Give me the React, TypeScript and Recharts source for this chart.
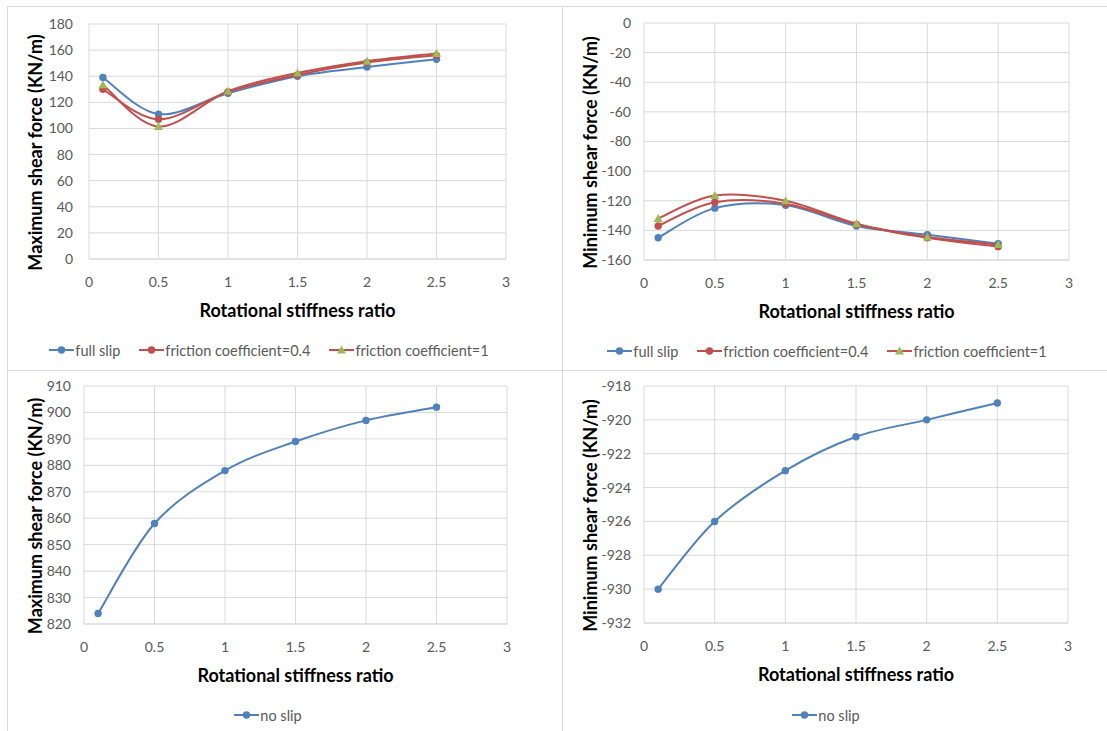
import { LineChart, Line, XAxis, YAxis, CartesianGrid, Legend } from "recharts";

const ratios = [0.1, 0.5, 1, 1.5, 2, 2.5];
const xTicks = [0, 0.5, 1, 1.5, 2, 2.5, 3];

const maxFullSlip = [139, 111, 127, 140, 147, 153];
const maxFriction04 = [130, 107, 128, 141, 150.5, 156];
const maxFriction1 = [133.5, 101.5, 128.5, 142.5, 151.5, 157.5];
const maxTicks = [0, 20, 40, 60, 80, 100, 120, 140, 160, 180];

const minFullSlip = [-145, -125, -123, -137, -143, -149];
const minFriction04 = [-137, -121, -122, -136, -145, -151];
const minFriction1 = [-132, -116.5, -120, -135.5, -144.5, -149.5];
const minTicks = [-160, -140, -120, -100, -80, -60, -40, -20, 0];

const maxNoSlip = [824, 858, 878, 889, 897, 902];
const maxNoSlipTicks = [820, 830, 840, 850, 860, 870, 880, 890, 900, 910];

const minNoSlip = [-930, -926, -923, -921, -920, -919];
const minNoSlipTicks = [-932, -930, -928, -926, -924, -922, -920, -918];

const xTitle = "Rotational stiffness ratio";
const maxTitle = "Maximum shear force (KN/m)";
const minTitle = "Minimum shear force (KN/m)";

const BLUE = "#4F81BD";
const RED = "#C0504D";
const GREEN = "#9BBB59";
const GRID = "#d9d9d9";
const TICK = "#595959";

type Series = { key: string; name: string; values: number[]; line: string; marker: string; shape: string };

// Excel-style smoothed line (Catmull-Rom as bezier segments)
function excelSmooth(context: any) {
  let pts: number[][] = [];
  return {
    areaStart() {},
    areaEnd() {},
    lineStart() {
      pts = [];
    },
    point(x: number, y: number) {
      pts.push([x, y]);
    },
    lineEnd() {
      if (!pts.length) return;
      context.moveTo(pts[0][0], pts[0][1]);
      const t = 1 / 6;
      for (let i = 0; i < pts.length - 1; i++) {
        const p0 = pts[Math.max(i - 1, 0)];
        const p1 = pts[i];
        const p2 = pts[i + 1];
        const p3 = pts[Math.min(i + 2, pts.length - 1)];
        context.bezierCurveTo(
          p1[0] + (p2[0] - p0[0]) * t,
          p1[1] + (p2[1] - p0[1]) * t,
          p2[0] - (p3[0] - p1[0]) * t,
          p2[1] - (p3[1] - p1[1]) * t,
          p2[0],
          p2[1]
        );
      }
    },
  };
}

function Marker({ cx, cy, shape, color }: any) {
  if (cx == null || cy == null) return null;
  if (shape === "triangle") {
    return <path d={`M${cx},${cy - 4.5}L${cx + 4.5},${cy + 3.5}L${cx - 4.5},${cy + 3.5}Z`} fill={color} />;
  }
  return <circle cx={cx} cy={cy} r={3.7} fill={color} />;
}

function LegendRow({ items }: { items: Series[] }) {
  return (
    <div style={{ display: "flex", justifyContent: "center", alignItems: "center", height: 30, gap: 19 }}>
      {items.map((s) => (
        <div key={s.key} style={{ display: "flex", alignItems: "center" }}>
          <svg width={25} height={10}>
            <line x1={0} y1={5} x2={25} y2={5} stroke={s.line} strokeWidth={2} />
            <Marker cx={12.5} cy={5} shape={s.shape} color={s.marker} />
          </svg>
          <span style={{ marginLeft: 1, fontSize: 14.5, color: TICK }}>{s.name}</span>
        </div>
      ))}
    </div>
  );
}

type Panel = {
  left: number;
  top: number;
  width: number;
  height: number;
  plotLeft: number;
  plotRight: number;
  plotTop: number;
  plotBottom: number;
  yGap: number;
  legendCenter: number;
  legendY: number;
};

function ShearChart({ panel, series, yTicks, yTitle }: { panel: Panel; series: Series[]; yTicks: number[]; yTitle: string }) {
  const rows = ratios.map((x, i) => {
    const row: any = { x };
    series.forEach((s) => (row[s.key] = s.values[i]));
    return row;
  });
  const mb = panel.height - panel.legendY - 15;
  const xAxisH = panel.height - panel.plotBottom - 30 - mb;
  const plotMid = (panel.plotTop + panel.plotBottom) / 2 + 11;
  const plotCenterX = (panel.plotLeft + panel.plotRight) / 2;

  return (
    <div
      style={{
        position: "absolute",
        left: panel.left,
        top: panel.top,
        width: panel.width,
        height: panel.height,
        border: `1px solid ${GRID}`,
        background: "#fff",
      }}
    >
      <div style={{ position: "absolute", left: -1, top: -1 }}>
        <LineChart
          width={panel.width}
          height={panel.height}
          data={rows}
          margin={{ top: panel.plotTop, right: panel.width - panel.plotRight, bottom: mb, left: 0 }}
        >
          <CartesianGrid stroke={GRID} />
          <XAxis
            type="number"
            dataKey="x"
            domain={[0, 3]}
            ticks={xTicks}
            interval={0}
            tickLine={false}
            axisLine={{ stroke: GRID }}
            tickSize={0}
            tickMargin={18}
            tick={{ fill: TICK, fontSize: 14 }}
            height={xAxisH}
            label={{
              content: () => (
                <text
                  x={plotCenterX}
                  y={panel.plotBottom + 51}
                  textAnchor="middle"
                  dominantBaseline="central"
                  fontSize={18}
                  fontWeight="bold"
                  fill="#000"
                >
                  {xTitle}
                </text>
              ),
            }}
          />
          <YAxis
            type="number"
            domain={[yTicks[0], yTicks[yTicks.length - 1]]}
            ticks={yTicks}
            interval={0}
            axisLine={false}
            tickLine={false}
            tickSize={0}
            tickMargin={panel.yGap}
            tick={{ fill: TICK, fontSize: 14 }}
            width={panel.plotLeft}
            label={{
              content: () => (
                <text
                  x={28}
                  y={plotMid}
                  textAnchor="middle"
                  dominantBaseline="central"
                  fontSize={18}
                  fontWeight="bold"
                  fill="#000"
                  transform={`rotate(-90, 28, ${plotMid})`}
                >
                  {yTitle}
                </text>
              ),
            }}
          />
          <Legend
            verticalAlign="bottom"
            height={30}
            wrapperStyle={{ left: 0, width: panel.legendCenter * 2 }}
            content={() => <LegendRow items={series} />}
          />
          {series.map((s) => (
            <Line
              key={s.key}
              dataKey={s.key}
              name={s.name}
              type={excelSmooth as any}
              stroke={s.line}
              strokeWidth={2}
              isAnimationActive={false}
              dot={(p: any) => <Marker key={`${s.key}-${p.index}`} cx={p.cx} cy={p.cy} shape={s.shape} color={s.marker} />}
              activeDot={false}
            />
          ))}
        </LineChart>
      </div>
    </div>
  );
}

const maxSeries: Series[] = [
  { key: "fullSlip", name: "full slip", values: maxFullSlip, line: BLUE, marker: BLUE, shape: "circle" },
  { key: "friction04", name: "friction coefficient=0.4", values: maxFriction04, line: RED, marker: RED, shape: "circle" },
  { key: "friction1", name: "friction coefficient=1", values: maxFriction1, line: RED, marker: GREEN, shape: "triangle" },
];

const minSeries: Series[] = [
  { key: "fullSlip", name: "full slip", values: minFullSlip, line: BLUE, marker: BLUE, shape: "circle" },
  { key: "friction04", name: "friction coefficient=0.4", values: minFriction04, line: RED, marker: RED, shape: "circle" },
  { key: "friction1", name: "friction coefficient=1", values: minFriction1, line: RED, marker: GREEN, shape: "triangle" },
];

const maxNoSlipSeries: Series[] = [
  { key: "noSlip", name: "no slip", values: maxNoSlip, line: BLUE, marker: BLUE, shape: "circle" },
];

const minNoSlipSeries: Series[] = [
  { key: "noSlip", name: "no slip", values: minNoSlip, line: BLUE, marker: BLUE, shape: "circle" },
];

export default function App() {
  return (
    <div
      style={{
        position: "absolute",
        left: 0,
        top: 0,
        width: 1107,
        height: 731,
        overflow: "hidden",
        background: "#fff",
        fontFamily: "Lato, 'Open Sans', sans-serif",
      }}
    >
      <ShearChart
        panel={{ left: 7, top: 6, width: 554, height: 364, plotLeft: 82, plotRight: 499, plotTop: 18, plotBottom: 253, yGap: 16, legendCenter: 262, legendY: 344 }}
        series={maxSeries}
        yTicks={maxTicks}
        yTitle={maxTitle}
      />
      <ShearChart
        panel={{ left: 562, top: 6, width: 545, height: 364, plotLeft: 82, plotRight: 507, plotTop: 17, plotBottom: 254, yGap: 13, legendCenter: 265, legendY: 345 }}
        series={minSeries}
        yTicks={minTicks}
        yTitle={minTitle}
      />
      <ShearChart
        panel={{ left: 7, top: 370, width: 554, height: 361, plotLeft: 77, plotRight: 500, plotTop: 16, plotBottom: 254, yGap: 13, legendCenter: 261, legendY: 345 }}
        series={maxNoSlipSeries}
        yTicks={maxNoSlipTicks}
        yTitle={maxTitle}
      />
      <ShearChart
        panel={{ left: 562, top: 370, width: 545, height: 361, plotLeft: 82, plotRight: 506, plotTop: 16, plotBottom: 253, yGap: 13, legendCenter: 264, legendY: 345 }}
        series={minNoSlipSeries}
        yTicks={minNoSlipTicks}
        yTitle={minTitle}
      />
    </div>
  );
}
